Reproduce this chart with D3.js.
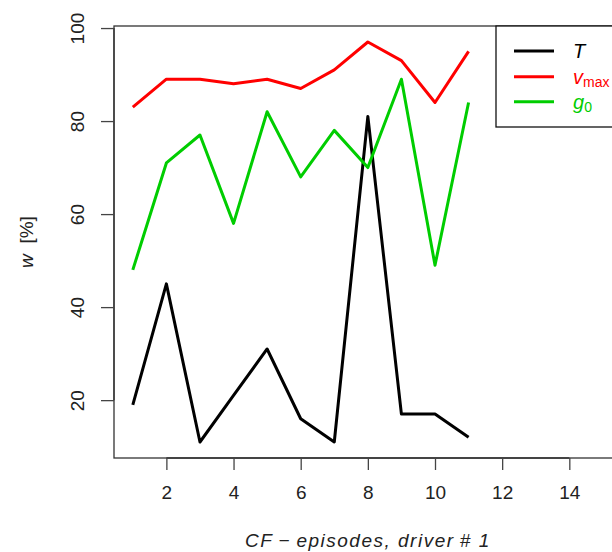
<!DOCTYPE html>
<html>
<head>
<meta charset="utf-8">
<script src="https://cdn.jsdelivr.net/npm/d3@7"></script>
<style>
  html,body{margin:0;padding:0;background:#fff;}
  svg{display:block;font-family:"Liberation Sans",Arial,sans-serif;}
</style>
</head>
<body>
<svg id="chart" width="612" height="552"></svg>
<script>
// ── data ──
const episodes=[1,2,3,4,5,6,7,8,9,10,11];
const wT   =[19,45,11,21,31,16,11,81,17,17,12];
const wVmax=[83,89,89,88,89,87,91,97,93,84,95];
const wG0  =[48,71,77,58,82,68,78,70,89,49,84];
const xTicks=[2,4,6,8,10,12,14];
const yTicks=[20,40,60,80,100];
const series=[
  {key:"T",    vals:wT,    col:"#000000"},
  {key:"vmax", vals:wVmax, col:"#ff0000"},
  {key:"g0",   vals:wG0,   col:"#00cd00"},
];

const svg=d3.select("#chart");
const L=114,T=26,R=621.7,B=458;
// R-style 4% padding around the ranges
const pad=(a,b)=>[a-(b-a)*0.04,b+(b-a)*0.04];
const x=d3.scaleLinear().domain(pad(1,15)).range([L,R]);
const y=d3.scaleLinear().domain(pad(11,97)).range([B,T]);

// box
svg.append("rect").attr("x",L).attr("y",T).attr("width",R-L).attr("height",B-T)
  .attr("fill","none").attr("stroke","#333").attr("stroke-width",1.3);

// axes
const gx=svg.append("g").attr("transform",`translate(0,${B})`)
  .call(d3.axisBottom(x).tickValues(xTicks).tickSize(12).tickPadding(16).tickFormat(d3.format("d")));
const gy=svg.append("g").attr("transform",`translate(${L},0)`)
  .call(d3.axisLeft(y).tickValues(yTicks).tickSize(13).tickPadding(10).tickFormat(d3.format("d")));
[gx,gy].forEach(g=>{
  g.select(".domain").attr("stroke","#333").attr("stroke-width",1.3);
  g.selectAll(".tick line").attr("stroke","#444").attr("stroke-width",1.3);
  g.selectAll("text").attr("font-size",19).attr("fill","#222").attr("font-family","Liberation Sans,Arial,sans-serif");
});
gx.select(".domain").attr("d",`M${x(2)},0H${x(14)}`);
gy.select(".domain").attr("d",`M0,${y(20)}V${y(100)}`);
gy.selectAll(".tick text").attr("transform","rotate(-90)").attr("x",0).attr("y",-30)
  .attr("dy",0).attr("text-anchor","middle");

// lines
const line=d3.line().x((d,i)=>x(episodes[i])).y(d=>y(d));
series.forEach(s=>{
  svg.append("path").datum(s.vals).attr("d",line).attr("fill","none")
    .attr("stroke",s.col).attr("stroke-width",3).attr("stroke-linejoin","round");
});

// axis titles
svg.append("text").attr("x",(L+R)/2).attr("y",547).attr("text-anchor","middle")
  .attr("font-size",19).attr("font-style","italic").attr("letter-spacing",1.5).attr("fill","#222")
  .text("CF\u2009\u2212\u2009episodes, driver\u2009# 1");
const yl=svg.append("text").attr("transform",`translate(33,${(T+B)/2}) rotate(-90)`)
  .attr("text-anchor","middle").attr("font-size",19).attr("fill","#222");
yl.append("tspan").attr("font-style","italic").text("w");
yl.append("tspan").text("  [%]").attr("xml:space","preserve");

// legend
const lg=svg.append("g");
lg.append("rect").attr("x",496).attr("y",T).attr("width",140).attr("height",101)
  .attr("fill","#fff").attr("stroke","#111").attr("stroke-width",1.3);
const legY=[51,76.7,101.7];
series.forEach((s,i)=>{
  lg.append("line").attr("x1",514).attr("x2",554).attr("y1",legY[i]).attr("y2",legY[i])
    .attr("stroke",s.col).attr("stroke-width",3);
  const t=lg.append("text").attr("x",573).attr("y",legY[i]+7).attr("font-size",20).attr("fill",s.col);
  if(s.key==="T") t.append("tspan").attr("font-style","italic").text("T");
  if(s.key==="vmax"){t.append("tspan").attr("font-style","italic").text("v");
    t.append("tspan").attr("font-size",14).attr("dy",3).text("max");}
  if(s.key==="g0"){t.append("tspan").attr("font-style","italic").text("g");
    t.append("tspan").attr("font-size",14).attr("dy",3).text("0");}
});
</script>
</body>
</html>
